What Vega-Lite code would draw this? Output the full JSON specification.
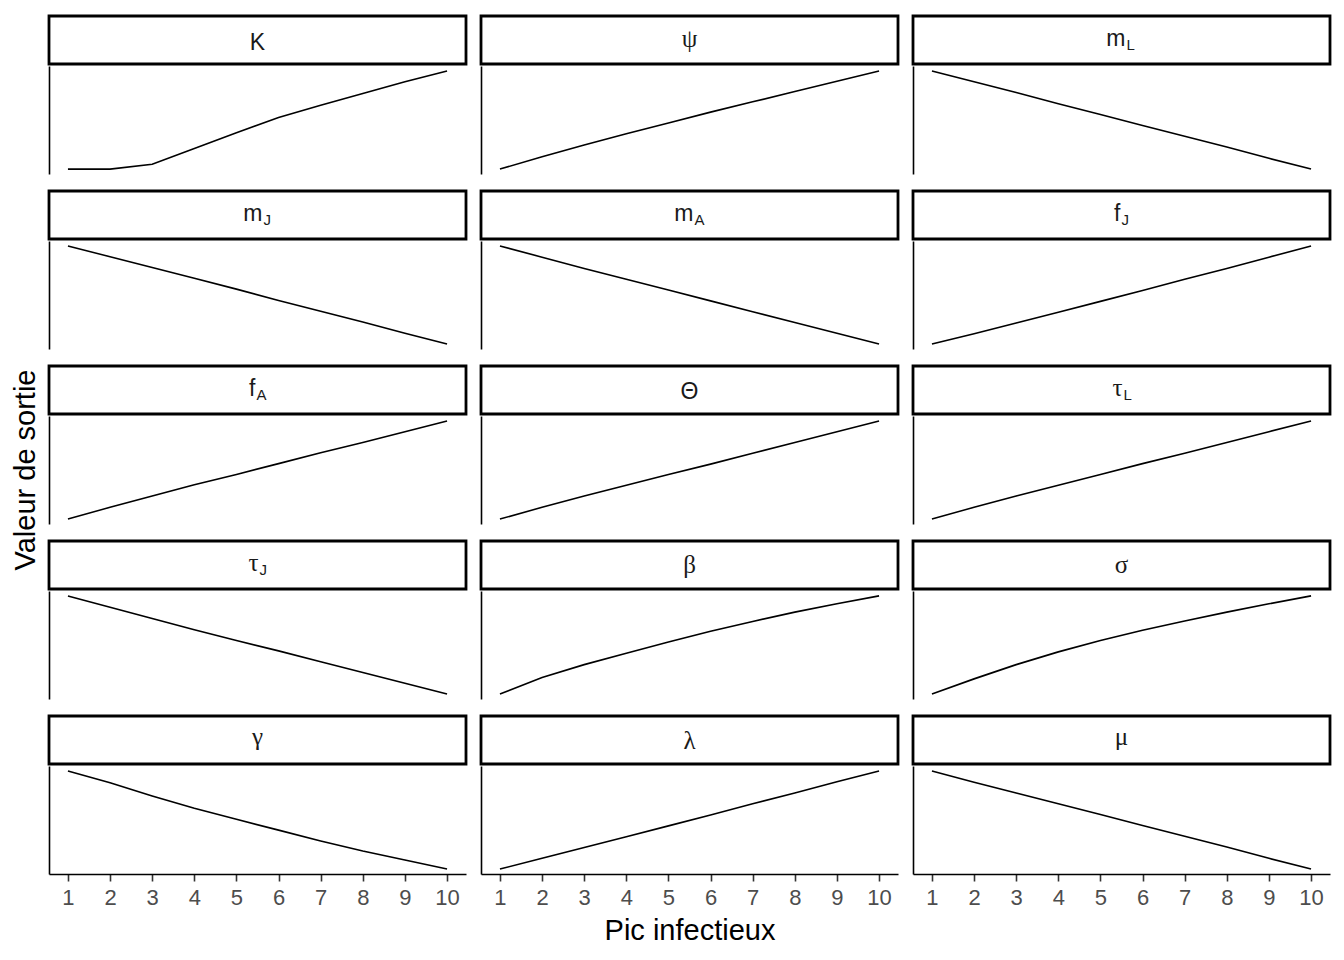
{
"$schema":"https://vega.github.io/schema/vega-lite/v6.json",
"padding":{"left":5,"top":14,"right":5,"bottom":5},
"background":"white",
"config":{"view":{"stroke":null},"font":"Liberation Sans",
"axis":{"titleFont":"Liberation Sans","titleFontSize":29,"titleColor":"black","titleFontWeight":"normal","labelFont":"Liberation Sans","grid":false},
"axisY":{"labels":false,"ticks":false,"domainColor":"black","domainWidth":1.6},
"axisX":{"domainColor":"black","domainWidth":1.6,"tickColor":"#333333","tickWidth":1.6,"tickSize":7,"labelColor":"#4D4D4D","labelFontSize":22,"labelPadding":6,"labelFlush":false}},
"datasets":{
"libelles":[
{"p":"K","main":"K","sub":""},{"p":"psi","main":"ψ","sub":""},{"p":"mL","main":"m","sub":"L"},
{"p":"mJ","main":"m","sub":"J"},{"p":"mA","main":"m","sub":"A"},{"p":"fJ","main":"f","sub":"J"},
{"p":"fA","main":"f","sub":"A"},{"p":"Theta","main":"Θ","sub":""},{"p":"tauL","main":"τ","sub":"L"},
{"p":"tauJ","main":"τ","sub":"J"},{"p":"beta","main":"β","sub":""},{"p":"sigma","main":"σ","sub":""},
{"p":"gamma","main":"γ","sub":""},{"p":"lambda","main":"λ","sub":""},{"p":"mu","main":"μ","sub":""}],
"courbes":[
{"p":"K","x":1,"v":0},{"p":"K","x":2,"v":0},{"p":"K","x":3,"v":0.05},{"p":"K","x":4,"v":0.21},{"p":"K","x":5,"v":0.37},{"p":"K","x":6,"v":0.525},{"p":"K","x":7,"v":0.65},{"p":"K","x":8,"v":0.77},{"p":"K","x":9,"v":0.89},{"p":"K","x":10,"v":1},
{"p":"psi","x":1,"v":0},{"p":"psi","x":2,"v":0.125},{"p":"psi","x":3,"v":0.245},{"p":"psi","x":4,"v":0.36},{"p":"psi","x":5,"v":0.47},{"p":"psi","x":6,"v":0.58},{"p":"psi","x":7,"v":0.685},{"p":"psi","x":8,"v":0.79},{"p":"psi","x":9,"v":0.895},{"p":"psi","x":10,"v":1},
{"p":"mL","x":1,"v":1},{"p":"mL","x":2,"v":0.89},{"p":"mL","x":3,"v":0.78},{"p":"mL","x":4,"v":0.665},{"p":"mL","x":5,"v":0.555},{"p":"mL","x":6,"v":0.445},{"p":"mL","x":7,"v":0.335},{"p":"mL","x":8,"v":0.225},{"p":"mL","x":9,"v":0.11},{"p":"mL","x":10,"v":0},
{"p":"mJ","x":1,"v":1},{"p":"mJ","x":2,"v":0.89},{"p":"mJ","x":3,"v":0.78},{"p":"mJ","x":4,"v":0.67},{"p":"mJ","x":5,"v":0.56},{"p":"mJ","x":6,"v":0.445},{"p":"mJ","x":7,"v":0.335},{"p":"mJ","x":8,"v":0.225},{"p":"mJ","x":9,"v":0.11},{"p":"mJ","x":10,"v":0},
{"p":"mA","x":1,"v":1},{"p":"mA","x":2,"v":0.885},{"p":"mA","x":3,"v":0.77},{"p":"mA","x":4,"v":0.66},{"p":"mA","x":5,"v":0.55},{"p":"mA","x":6,"v":0.44},{"p":"mA","x":7,"v":0.33},{"p":"mA","x":8,"v":0.22},{"p":"mA","x":9,"v":0.11},{"p":"mA","x":10,"v":0},
{"p":"fJ","x":1,"v":0},{"p":"fJ","x":2,"v":0.105},{"p":"fJ","x":3,"v":0.215},{"p":"fJ","x":4,"v":0.325},{"p":"fJ","x":5,"v":0.435},{"p":"fJ","x":6,"v":0.545},{"p":"fJ","x":7,"v":0.66},{"p":"fJ","x":8,"v":0.77},{"p":"fJ","x":9,"v":0.885},{"p":"fJ","x":10,"v":1},
{"p":"fA","x":1,"v":0},{"p":"fA","x":2,"v":0.12},{"p":"fA","x":3,"v":0.235},{"p":"fA","x":4,"v":0.35},{"p":"fA","x":5,"v":0.455},{"p":"fA","x":6,"v":0.565},{"p":"fA","x":7,"v":0.675},{"p":"fA","x":8,"v":0.78},{"p":"fA","x":9,"v":0.89},{"p":"fA","x":10,"v":1},
{"p":"Theta","x":1,"v":0},{"p":"Theta","x":2,"v":0.12},{"p":"Theta","x":3,"v":0.235},{"p":"Theta","x":4,"v":0.345},{"p":"Theta","x":5,"v":0.455},{"p":"Theta","x":6,"v":0.56},{"p":"Theta","x":7,"v":0.67},{"p":"Theta","x":8,"v":0.78},{"p":"Theta","x":9,"v":0.89},{"p":"Theta","x":10,"v":1},
{"p":"tauL","x":1,"v":0},{"p":"tauL","x":2,"v":0.12},{"p":"tauL","x":3,"v":0.235},{"p":"tauL","x":4,"v":0.345},{"p":"tauL","x":5,"v":0.455},{"p":"tauL","x":6,"v":0.565},{"p":"tauL","x":7,"v":0.67},{"p":"tauL","x":8,"v":0.78},{"p":"tauL","x":9,"v":0.89},{"p":"tauL","x":10,"v":1},
{"p":"tauJ","x":1,"v":1},{"p":"tauJ","x":2,"v":0.885},{"p":"tauJ","x":3,"v":0.77},{"p":"tauJ","x":4,"v":0.655},{"p":"tauJ","x":5,"v":0.545},{"p":"tauJ","x":6,"v":0.44},{"p":"tauJ","x":7,"v":0.33},{"p":"tauJ","x":8,"v":0.22},{"p":"tauJ","x":9,"v":0.11},{"p":"tauJ","x":10,"v":0},
{"p":"beta","x":1,"v":0},{"p":"beta","x":2,"v":0.17},{"p":"beta","x":3,"v":0.3},{"p":"beta","x":4,"v":0.415},{"p":"beta","x":5,"v":0.53},{"p":"beta","x":6,"v":0.64},{"p":"beta","x":7,"v":0.74},{"p":"beta","x":8,"v":0.835},{"p":"beta","x":9,"v":0.92},{"p":"beta","x":10,"v":1},
{"p":"sigma","x":1,"v":0},{"p":"sigma","x":2,"v":0.155},{"p":"sigma","x":3,"v":0.3},{"p":"sigma","x":4,"v":0.43},{"p":"sigma","x":5,"v":0.545},{"p":"sigma","x":6,"v":0.65},{"p":"sigma","x":7,"v":0.745},{"p":"sigma","x":8,"v":0.835},{"p":"sigma","x":9,"v":0.92},{"p":"sigma","x":10,"v":1},
{"p":"gamma","x":1,"v":1},{"p":"gamma","x":2,"v":0.88},{"p":"gamma","x":3,"v":0.745},{"p":"gamma","x":4,"v":0.62},{"p":"gamma","x":5,"v":0.507},{"p":"gamma","x":6,"v":0.397},{"p":"gamma","x":7,"v":0.286},{"p":"gamma","x":8,"v":0.184},{"p":"gamma","x":9,"v":0.092},{"p":"gamma","x":10,"v":0},
{"p":"lambda","x":1,"v":0},{"p":"lambda","x":2,"v":0.11},{"p":"lambda","x":3,"v":0.22},{"p":"lambda","x":4,"v":0.33},{"p":"lambda","x":5,"v":0.44},{"p":"lambda","x":6,"v":0.55},{"p":"lambda","x":7,"v":0.665},{"p":"lambda","x":8,"v":0.775},{"p":"lambda","x":9,"v":0.89},{"p":"lambda","x":10,"v":1},
{"p":"mu","x":1,"v":1},{"p":"mu","x":2,"v":0.885},{"p":"mu","x":3,"v":0.775},{"p":"mu","x":4,"v":0.665},{"p":"mu","x":5,"v":0.555},{"p":"mu","x":6,"v":0.445},{"p":"mu","x":7,"v":0.335},{"p":"mu","x":8,"v":0.225},{"p":"mu","x":9,"v":0.11},{"p":"mu","x":10,"v":0}
]},
"spacing":0,
"hconcat":[
{"width":42,"height":908,"data":{"values":[{"t":"Valeur de sortie"}]},"mark":{"type":"text","angle":270,"font":"Liberation Sans","fontSize":29,"color":"black","baseline":"middle","align":"center"},"encoding":{"text":{"field":"t"}}},
{"columns":3,
"spacing":{"row":15,"column":11},
"align":"each",
"concat":[
{"spacing":0,"vconcat":[
 {"width":417,"height":48,"data":{"name":"libelles"},"transform":[{"filter":"datum.p==='K'"}],"view":{"stroke":"black","strokeWidth":2.8},"mark":{"type":"text","font":"Liberation Sans","fontSize":23,"color":"#1A1A1A","baseline":"alphabetic","dy":10},"encoding":{"text":{"field":"main"}}},
 {"width":417,"height":108,"data":{"name":"courbes"},"transform":[{"filter":"datum.p==='K'"}],"mark":{"type":"line","color":"black","strokeWidth":1.6},"encoding":{"x":{"field":"x","type":"quantitative","scale":{"domain":[0.55,10.45],"nice":false,"zero":false},"axis":null},"y":{"field":"v","type":"quantitative","scale":{"domain":[-0.05,1.05],"nice":false,"zero":false},"axis":{"title":null}}}}
]},
{"spacing":0,"vconcat":[
 {"width":417,"height":48,"data":{"name":"libelles"},"transform":[{"filter":"datum.p==='psi'"}],"view":{"stroke":"black","strokeWidth":2.8},"mark":{"type":"text","font":"Liberation Serif","fontSize":25,"color":"#1A1A1A","baseline":"alphabetic","dy":7},"encoding":{"text":{"field":"main"}}},
 {"width":417,"height":108,"data":{"name":"courbes"},"transform":[{"filter":"datum.p==='psi'"}],"mark":{"type":"line","color":"black","strokeWidth":1.6},"encoding":{"x":{"field":"x","type":"quantitative","scale":{"domain":[0.55,10.45],"nice":false,"zero":false},"axis":null},"y":{"field":"v","type":"quantitative","scale":{"domain":[-0.05,1.05],"nice":false,"zero":false},"axis":{"title":null}}}}
]},
{"spacing":0,"vconcat":[
 {"width":417,"height":48,"data":{"name":"libelles"},"transform":[{"filter":"datum.p==='mL'"}],"view":{"stroke":"black","strokeWidth":2.8},"layer":[
  {"mark":{"type":"text","font":"Liberation Sans","fontSize":23,"color":"#1A1A1A","baseline":"alphabetic","align":"right","dx":4,"dy":6},"encoding":{"text":{"field":"main"}}},
  {"mark":{"type":"text","font":"Liberation Sans","fontSize":15,"color":"#1A1A1A","baseline":"alphabetic","align":"left","dx":5,"dy":10},"encoding":{"text":{"field":"sub"}}}]},
 {"width":417,"height":108,"data":{"name":"courbes"},"transform":[{"filter":"datum.p==='mL'"}],"mark":{"type":"line","color":"black","strokeWidth":1.6},"encoding":{"x":{"field":"x","type":"quantitative","scale":{"domain":[0.55,10.45],"nice":false,"zero":false},"axis":null},"y":{"field":"v","type":"quantitative","scale":{"domain":[-0.05,1.05],"nice":false,"zero":false},"axis":{"title":null}}}}
]},
{"spacing":0,"vconcat":[
 {"width":417,"height":48,"data":{"name":"libelles"},"transform":[{"filter":"datum.p==='mJ'"}],"view":{"stroke":"black","strokeWidth":2.8},"layer":[
  {"mark":{"type":"text","font":"Liberation Sans","fontSize":23,"color":"#1A1A1A","baseline":"alphabetic","align":"right","dx":5,"dy":6},"encoding":{"text":{"field":"main"}}},
  {"mark":{"type":"text","font":"Liberation Sans","fontSize":15,"color":"#1A1A1A","baseline":"alphabetic","align":"left","dx":6,"dy":10},"encoding":{"text":{"field":"sub"}}}]},
 {"width":417,"height":108,"data":{"name":"courbes"},"transform":[{"filter":"datum.p==='mJ'"}],"mark":{"type":"line","color":"black","strokeWidth":1.6},"encoding":{"x":{"field":"x","type":"quantitative","scale":{"domain":[0.55,10.45],"nice":false,"zero":false},"axis":null},"y":{"field":"v","type":"quantitative","scale":{"domain":[-0.05,1.05],"nice":false,"zero":false},"axis":{"title":null}}}}
]},
{"spacing":0,"vconcat":[
 {"width":417,"height":48,"data":{"name":"libelles"},"transform":[{"filter":"datum.p==='mA'"}],"view":{"stroke":"black","strokeWidth":2.8},"layer":[
  {"mark":{"type":"text","font":"Liberation Sans","fontSize":23,"color":"#1A1A1A","baseline":"alphabetic","align":"right","dx":4,"dy":6},"encoding":{"text":{"field":"main"}}},
  {"mark":{"type":"text","font":"Liberation Sans","fontSize":15,"color":"#1A1A1A","baseline":"alphabetic","align":"left","dx":5,"dy":10},"encoding":{"text":{"field":"sub"}}}]},
 {"width":417,"height":108,"data":{"name":"courbes"},"transform":[{"filter":"datum.p==='mA'"}],"mark":{"type":"line","color":"black","strokeWidth":1.6},"encoding":{"x":{"field":"x","type":"quantitative","scale":{"domain":[0.55,10.45],"nice":false,"zero":false},"axis":null},"y":{"field":"v","type":"quantitative","scale":{"domain":[-0.05,1.05],"nice":false,"zero":false},"axis":{"title":null}}}}
]},
{"spacing":0,"vconcat":[
 {"width":417,"height":48,"data":{"name":"libelles"},"transform":[{"filter":"datum.p==='fJ'"}],"view":{"stroke":"black","strokeWidth":2.8},"layer":[
  {"mark":{"type":"text","font":"Liberation Sans","fontSize":23,"color":"#1A1A1A","baseline":"alphabetic","align":"right","dx":-1,"dy":6},"encoding":{"text":{"field":"main"}}},
  {"mark":{"type":"text","font":"Liberation Sans","fontSize":15,"color":"#1A1A1A","baseline":"alphabetic","align":"left","dx":0,"dy":10},"encoding":{"text":{"field":"sub"}}}]},
 {"width":417,"height":108,"data":{"name":"courbes"},"transform":[{"filter":"datum.p==='fJ'"}],"mark":{"type":"line","color":"black","strokeWidth":1.6},"encoding":{"x":{"field":"x","type":"quantitative","scale":{"domain":[0.55,10.45],"nice":false,"zero":false},"axis":null},"y":{"field":"v","type":"quantitative","scale":{"domain":[-0.05,1.05],"nice":false,"zero":false},"axis":{"title":null}}}}
]},
{"spacing":0,"vconcat":[
 {"width":417,"height":48,"data":{"name":"libelles"},"transform":[{"filter":"datum.p==='fA'"}],"view":{"stroke":"black","strokeWidth":2.8},"layer":[
  {"mark":{"type":"text","font":"Liberation Sans","fontSize":23,"color":"#1A1A1A","baseline":"alphabetic","align":"right","dx":-2,"dy":6},"encoding":{"text":{"field":"main"}}},
  {"mark":{"type":"text","font":"Liberation Sans","fontSize":15,"color":"#1A1A1A","baseline":"alphabetic","align":"left","dx":-1,"dy":10},"encoding":{"text":{"field":"sub"}}}]},
 {"width":417,"height":108,"data":{"name":"courbes"},"transform":[{"filter":"datum.p==='fA'"}],"mark":{"type":"line","color":"black","strokeWidth":1.6},"encoding":{"x":{"field":"x","type":"quantitative","scale":{"domain":[0.55,10.45],"nice":false,"zero":false},"axis":null},"y":{"field":"v","type":"quantitative","scale":{"domain":[-0.05,1.05],"nice":false,"zero":false},"axis":{"title":null}}}}
]},
{"spacing":0,"vconcat":[
 {"width":417,"height":48,"data":{"name":"libelles"},"transform":[{"filter":"datum.p==='Theta'"}],"view":{"stroke":"black","strokeWidth":2.8},"mark":{"type":"text","font":"Liberation Sans","fontSize":23,"color":"#1A1A1A","baseline":"alphabetic","dy":9},"encoding":{"text":{"field":"main"}}},
 {"width":417,"height":108,"data":{"name":"courbes"},"transform":[{"filter":"datum.p==='Theta'"}],"mark":{"type":"line","color":"black","strokeWidth":1.6},"encoding":{"x":{"field":"x","type":"quantitative","scale":{"domain":[0.55,10.45],"nice":false,"zero":false},"axis":null},"y":{"field":"v","type":"quantitative","scale":{"domain":[-0.05,1.05],"nice":false,"zero":false},"axis":{"title":null}}}}
]},
{"spacing":0,"vconcat":[
 {"width":417,"height":48,"data":{"name":"libelles"},"transform":[{"filter":"datum.p==='tauL'"}],"view":{"stroke":"black","strokeWidth":2.8},"layer":[
  {"mark":{"type":"text","font":"Liberation Serif","fontSize":25,"color":"#1A1A1A","baseline":"alphabetic","align":"right","dx":1,"dy":6},"encoding":{"text":{"field":"main"}}},
  {"mark":{"type":"text","font":"Liberation Sans","fontSize":15,"color":"#1A1A1A","baseline":"alphabetic","align":"left","dx":2,"dy":10},"encoding":{"text":{"field":"sub"}}}]},
 {"width":417,"height":108,"data":{"name":"courbes"},"transform":[{"filter":"datum.p==='tauL'"}],"mark":{"type":"line","color":"black","strokeWidth":1.6},"encoding":{"x":{"field":"x","type":"quantitative","scale":{"domain":[0.55,10.45],"nice":false,"zero":false},"axis":null},"y":{"field":"v","type":"quantitative","scale":{"domain":[-0.05,1.05],"nice":false,"zero":false},"axis":{"title":null}}}}
]},
{"spacing":0,"vconcat":[
 {"width":417,"height":48,"data":{"name":"libelles"},"transform":[{"filter":"datum.p==='tauJ'"}],"view":{"stroke":"black","strokeWidth":2.8},"layer":[
  {"mark":{"type":"text","font":"Liberation Serif","fontSize":25,"color":"#1A1A1A","baseline":"alphabetic","align":"right","dx":1,"dy":6},"encoding":{"text":{"field":"main"}}},
  {"mark":{"type":"text","font":"Liberation Sans","fontSize":15,"color":"#1A1A1A","baseline":"alphabetic","align":"left","dx":2,"dy":10},"encoding":{"text":{"field":"sub"}}}]},
 {"width":417,"height":108,"data":{"name":"courbes"},"transform":[{"filter":"datum.p==='tauJ'"}],"mark":{"type":"line","color":"black","strokeWidth":1.6},"encoding":{"x":{"field":"x","type":"quantitative","scale":{"domain":[0.55,10.45],"nice":false,"zero":false},"axis":null},"y":{"field":"v","type":"quantitative","scale":{"domain":[-0.05,1.05],"nice":false,"zero":false},"axis":{"title":null}}}}
]},
{"spacing":0,"vconcat":[
 {"width":417,"height":48,"data":{"name":"libelles"},"transform":[{"filter":"datum.p==='beta'"}],"view":{"stroke":"black","strokeWidth":2.8},"mark":{"type":"text","font":"Liberation Serif","fontSize":25,"color":"#1A1A1A","baseline":"alphabetic","dy":8},"encoding":{"text":{"field":"main"}}},
 {"width":417,"height":108,"data":{"name":"courbes"},"transform":[{"filter":"datum.p==='beta'"}],"mark":{"type":"line","color":"black","strokeWidth":1.6},"encoding":{"x":{"field":"x","type":"quantitative","scale":{"domain":[0.55,10.45],"nice":false,"zero":false},"axis":null},"y":{"field":"v","type":"quantitative","scale":{"domain":[-0.05,1.05],"nice":false,"zero":false},"axis":{"title":null}}}}
]},
{"spacing":0,"vconcat":[
 {"width":417,"height":48,"data":{"name":"libelles"},"transform":[{"filter":"datum.p==='sigma'"}],"view":{"stroke":"black","strokeWidth":2.8},"mark":{"type":"text","font":"Liberation Serif","fontSize":25,"color":"#1A1A1A","baseline":"alphabetic","dy":8},"encoding":{"text":{"field":"main"}}},
 {"width":417,"height":108,"data":{"name":"courbes"},"transform":[{"filter":"datum.p==='sigma'"}],"mark":{"type":"line","color":"black","strokeWidth":1.6},"encoding":{"x":{"field":"x","type":"quantitative","scale":{"domain":[0.55,10.45],"nice":false,"zero":false},"axis":null},"y":{"field":"v","type":"quantitative","scale":{"domain":[-0.05,1.05],"nice":false,"zero":false},"axis":{"title":null}}}}
]},
{"spacing":0,"vconcat":[
 {"width":417,"height":48,"data":{"name":"libelles"},"transform":[{"filter":"datum.p==='gamma'"}],"view":{"stroke":"black","strokeWidth":2.8},"mark":{"type":"text","font":"Liberation Serif","fontSize":25,"color":"#1A1A1A","baseline":"alphabetic","dy":5},"encoding":{"text":{"field":"main"}}},
 {"width":417,"height":108,"data":{"name":"courbes"},"transform":[{"filter":"datum.p==='gamma'"}],"mark":{"type":"line","color":"black","strokeWidth":1.6},"encoding":{"x":{"field":"x","type":"quantitative","scale":{"domain":[0.55,10.45],"nice":false,"zero":false},"axis":{"values":[1,2,3,4,5,6,7,8,9,10],"title":null}},"y":{"field":"v","type":"quantitative","scale":{"domain":[-0.05,1.05],"nice":false,"zero":false},"axis":{"title":null}}}}
]},
{"spacing":0,"vconcat":[
 {"width":417,"height":48,"data":{"name":"libelles"},"transform":[{"filter":"datum.p==='lambda'"}],"view":{"stroke":"black","strokeWidth":2.8},"mark":{"type":"text","font":"Liberation Serif","fontSize":25,"color":"#1A1A1A","baseline":"alphabetic","dy":9},"encoding":{"text":{"field":"main"}}},
 {"width":417,"height":108,"data":{"name":"courbes"},"transform":[{"filter":"datum.p==='lambda'"}],"mark":{"type":"line","color":"black","strokeWidth":1.6},"encoding":{"x":{"field":"x","type":"quantitative","scale":{"domain":[0.55,10.45],"nice":false,"zero":false},"axis":{"values":[1,2,3,4,5,6,7,8,9,10],"title":"Pic infectieux","titlePadding":8}},"y":{"field":"v","type":"quantitative","scale":{"domain":[-0.05,1.05],"nice":false,"zero":false},"axis":{"title":null}}}}
]},
{"spacing":0,"vconcat":[
 {"width":417,"height":48,"data":{"name":"libelles"},"transform":[{"filter":"datum.p==='mu'"}],"view":{"stroke":"black","strokeWidth":2.8},"mark":{"type":"text","font":"Liberation Serif","fontSize":25,"color":"#1A1A1A","baseline":"alphabetic","dy":5},"encoding":{"text":{"field":"main"}}},
 {"width":417,"height":108,"data":{"name":"courbes"},"transform":[{"filter":"datum.p==='mu'"}],"mark":{"type":"line","color":"black","strokeWidth":1.6},"encoding":{"x":{"field":"x","type":"quantitative","scale":{"domain":[0.55,10.45],"nice":false,"zero":false},"axis":{"values":[1,2,3,4,5,6,7,8,9,10],"title":null}},"y":{"field":"v","type":"quantitative","scale":{"domain":[-0.05,1.05],"nice":false,"zero":false},"axis":{"title":null}}}}
]}
]}
]
}
